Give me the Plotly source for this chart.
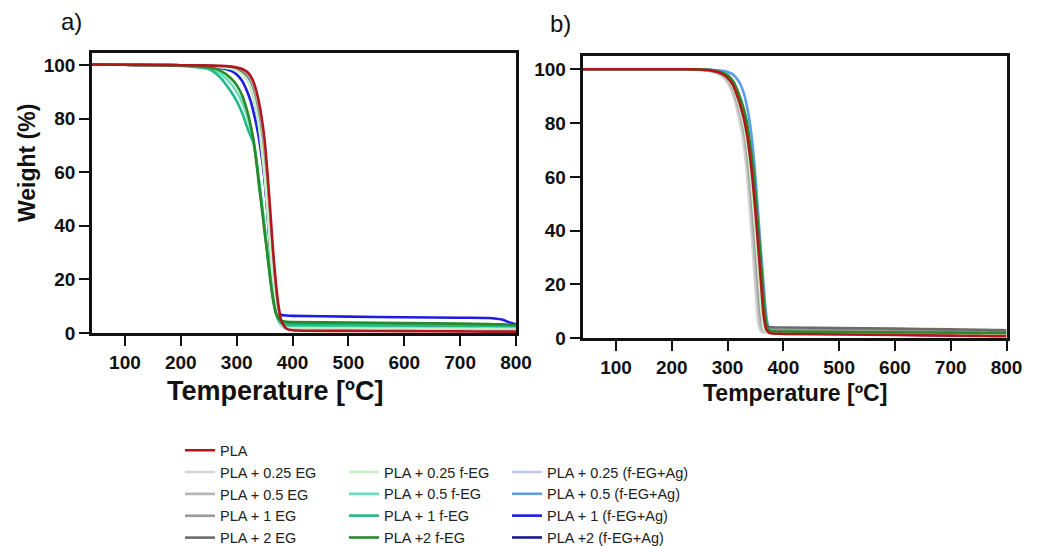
import plotly.graph_objects as go

W, H = 1038, 546

# Temperature grid (°C) shared by all curves
temps = [40, 100, 150, 200, 225, 250, 270, 290, 300, 310, 320, 325, 330, 335, 340, 345,
         350, 355, 360, 365, 370, 375, 380, 390, 400, 500, 600, 700, 750, 775, 790, 800]

# ---------- panel a) weight (%) ----------
pla_a = [100.2, 100.1, 100.0, 99.9, 99.9, 99.8, 99.7, 99.4, 99.1, 98.5, 97.2, 95.8, 93.8, 90.5, 86.0, 80.0,
         72.0, 60.0, 46.0, 31.0, 19.0, 10.0, 4.5, 1.5, 1.0, 0.8, 0.7, 0.6, 0.5, 0.5, 0.5, 0.5]
eg025_a = [100.2, 100.1, 100.0, 99.9, 99.9, 99.8, 99.6, 99.3, 99.0, 98.4, 96.8, 95.0, 92.5, 88.5, 83.5, 76.0,
           66.5, 54.0, 40.0, 26.0, 14.0, 6.5, 3.0, 1.8, 1.6, 1.5, 1.4, 1.3, 1.3, 1.3, 1.2, 1.2]
eg05_a = [100.2, 100.1, 100.0, 99.9, 99.9, 99.7, 99.5, 99.2, 98.8, 98.0, 96.0, 94.0, 91.0, 86.5, 81.0, 72.5,
          62.0, 49.0, 35.0, 22.0, 11.0, 5.0, 3.0, 2.3, 2.2, 2.1, 2.0, 1.9, 1.9, 1.8, 1.8, 1.8]
eg1_a = [100.2, 100.1, 100.0, 99.9, 99.8, 99.7, 99.4, 99.0, 98.5, 97.5, 95.2, 93.0, 89.8, 85.5, 79.5, 70.5,
         60.0, 47.0, 33.0, 20.0, 10.0, 5.0, 3.5, 2.8, 2.7, 2.6, 2.5, 2.4, 2.4, 2.3, 2.3, 2.3]
eg2_a = [100.2, 100.1, 100.0, 99.9, 99.8, 99.6, 99.3, 98.9, 98.3, 97.0, 94.5, 92.0, 88.5, 83.5, 77.5, 68.5,
         58.0, 45.0, 31.0, 18.0, 9.0, 5.0, 3.8, 3.3, 3.2, 3.1, 3.0, 2.9, 2.9, 2.8, 2.8, 2.8]
feg025_a = [100.2, 100.1, 100.0, 99.9, 99.8, 99.6, 99.2, 98.6, 97.8, 96.5, 94.0, 91.5, 88.0, 83.0, 77.0, 68.5,
            58.5, 46.0, 32.0, 19.0, 9.5, 4.5, 2.8, 2.2, 2.1, 2.0, 1.9, 1.9, 1.8, 1.8, 1.8, 1.8]
feg05_a = [100.2, 100.1, 100.0, 99.8, 99.5, 99.0, 97.0, 93.0, 90.0, 86.0, 80.0, 76.0, 72.5, 65.5, 57.0, 48.5,
           39.5, 30.5, 21.5, 13.5, 8.0, 5.0, 3.5, 2.8, 2.7, 2.6, 2.5, 2.4, 2.4, 2.4, 2.3, 2.3]
feg1_a = [100.2, 100.1, 100.0, 99.7, 99.3, 98.5, 95.5, 90.0, 86.5, 82.0, 76.0, 73.5, 71.0, 65.0, 56.5, 48.0,
          39.0, 30.0, 21.0, 13.0, 7.5, 4.8, 3.6, 3.1, 3.0, 2.9, 2.8, 2.7, 2.7, 2.6, 2.6, 2.6]
feg2_a = [100.2, 100.1, 100.0, 99.9, 99.7, 99.2, 98.0, 95.0, 92.5, 88.5, 82.0, 77.5, 72.0, 64.0, 55.0, 46.5,
          37.5, 29.0, 20.0, 12.5, 7.5, 5.5, 4.6, 4.2, 4.1, 3.9, 3.7, 3.5, 3.3, 3.2, 3.1, 3.0]
ag025_a = [100.2, 100.1, 100.0, 99.9, 99.9, 99.8, 99.6, 99.3, 99.0, 98.4, 96.8, 95.0, 92.5, 88.0, 82.5, 74.0,
           63.5, 51.0, 37.0, 23.5, 12.5, 5.5, 2.6, 1.7, 1.5, 1.4, 1.3, 1.2, 1.2, 1.2, 1.1, 1.1]
ag05_a = [100.2, 100.1, 100.0, 99.9, 99.8, 99.7, 99.5, 99.1, 98.6, 97.6, 95.0, 92.5, 89.0, 84.0, 78.0, 69.5,
          59.0, 46.5, 33.0, 20.0, 10.0, 4.5, 2.8, 2.2, 2.1, 2.0, 1.9, 1.9, 1.8, 1.8, 1.8, 1.8]
ag1_a = [100.2, 100.1, 100.0, 99.9, 99.8, 99.5, 99.0, 97.8, 96.5, 94.0, 89.5, 86.5, 82.5, 78.0, 72.5, 65.5,
         57.0, 45.5, 33.0, 21.0, 12.0, 8.0, 6.8, 6.5, 6.4, 6.1, 5.9, 5.7, 5.6, 5.0, 3.8, 3.2]
ag2_a = [100.2, 100.1, 100.0, 99.9, 99.8, 99.6, 99.3, 98.9, 98.3, 97.0, 94.5, 92.0, 88.5, 83.5, 77.5, 68.5,
         58.0, 45.0, 31.0, 18.0, 9.0, 5.0, 3.8, 3.3, 3.2, 3.1, 3.0, 2.9, 2.9, 2.8, 2.8, 2.8]

# ---------- panel b) weight (%) ----------
pla_b = [100, 100, 100, 100, 100, 99.9, 99.5, 98.3, 96.8, 94.0, 88.5, 85.0, 81.0, 75.5, 68.0, 58.5,
         47.0, 34.0, 20.5, 8.0, 3.0, 2.0, 1.8, 1.7, 1.6, 1.4, 1.2, 1.0, 0.9, 0.8, 0.8, 0.8]
eg025_b = [100, 100, 100, 100, 100, 99.8, 99.2, 97.5, 95.0, 90.5, 82.0, 77.0, 70.0, 60.0, 47.0, 33.0,
           18.0, 5.5, 2.4, 2.1, 2.0, 1.9, 1.9, 1.8, 1.8, 1.6, 1.5, 1.3, 1.3, 1.2, 1.2, 1.2]
eg05_b = [100, 100, 100, 100, 100, 99.8, 99.3, 97.8, 95.8, 92.0, 85.0, 80.5, 75.0, 66.5, 55.0, 41.5,
          27.0, 13.0, 4.0, 2.6, 2.5, 2.4, 2.4, 2.3, 2.3, 2.2, 2.0, 1.9, 1.8, 1.8, 1.8, 1.8]
eg1_b = [100, 100, 100, 100, 100, 99.8, 99.4, 98.0, 96.2, 92.8, 86.5, 82.5, 77.5, 70.0, 60.0, 48.0,
         34.5, 20.5, 8.0, 3.8, 3.4, 3.3, 3.3, 3.2, 3.2, 3.0, 2.8, 2.6, 2.5, 2.5, 2.5, 2.5]
eg2_b = [100, 100, 100, 100, 100, 99.9, 99.5, 98.2, 96.6, 93.5, 87.5, 84.0, 79.5, 73.0, 64.5, 54.0,
         42.0, 29.0, 16.0, 6.5, 4.5, 4.2, 4.1, 4.0, 4.0, 3.8, 3.6, 3.3, 3.2, 3.1, 3.1, 3.0]
feg025_b = [100, 100, 100, 100, 100, 99.9, 99.4, 98.1, 96.4, 93.2, 87.0, 83.0, 78.5, 72.0, 63.0, 52.0,
            39.5, 26.0, 12.0, 3.5, 2.3, 2.1, 2.0, 2.0, 1.9, 1.8, 1.7, 1.6, 1.5, 1.5, 1.5, 1.5]
feg2_b = [100, 100, 100, 100, 100, 99.9, 99.7, 98.8, 97.8, 95.5, 91.0, 88.0, 84.5, 80.0, 73.0, 65.0,
          54.0, 41.0, 28.0, 14.0, 5.0, 2.8, 2.6, 2.5, 2.5, 2.3, 2.2, 2.1, 2.0, 2.0, 2.0, 2.0]
ag025_b = [100, 100, 100, 100, 100, 99.9, 99.6, 98.6, 97.4, 95.0, 90.0, 86.8, 83.0, 78.0, 71.0, 62.0,
           51.0, 38.0, 24.5, 11.0, 4.0, 2.5, 2.3, 2.2, 2.2, 2.1, 2.0, 1.9, 1.8, 1.8, 1.8, 1.8]
ag05_b = [100, 100, 100, 100, 100, 100, 99.8, 99.4, 99.0, 98.0, 95.5, 93.5, 90.5, 86.0, 80.0, 71.5,
          60.0, 46.0, 32.0, 19.0, 7.5, 3.0, 2.6, 2.5, 2.5, 2.4, 2.3, 2.2, 2.1, 2.1, 2.1, 2.1]

x_ticks = [100, 200, 300, 400, 500, 600, 700, 800]
y_ticks = [0, 20, 40, 60, 80, 100]

# series: (name, colour, legend, rank, data_a, data_b) -- listed in drawing order
series = [
    ("PLA +2 (f-EG+Ag)", "#1a1a8c", "legend3", 13, ag2_a, None),
    ("PLA + 0.25 (f-EG+Ag)", "#c2c8f0", "legend3", 10, ag025_a, ag025_b),
    ("PLA + 0.5 (f-EG+Ag)", "#5c9ee8", "legend3", 11, ag05_a, ag05_b),
    ("PLA + 1 (f-EG+Ag)", "#1c1ce6", "legend3", 12, ag1_a, None),
    ("PLA + 0.25 EG", "#d6d6d6", "legend", 2, eg025_a, eg025_b),
    ("PLA + 0.5 EG", "#b6b6b6", "legend", 3, eg05_a, eg05_b),
    ("PLA + 1 EG", "#9a9a9a", "legend", 4, eg1_a, eg1_b),
    ("PLA + 2 EG", "#6c6c6c", "legend", 5, eg2_a, eg2_b),
    ("PLA + 0.25 f-EG", "#c8f0c8", "legend2", 6, feg025_a, feg025_b),
    ("PLA + 0.5 f-EG", "#66e0b6", "legend2", 7, feg05_a, None),
    ("PLA + 1 f-EG", "#22b888", "legend2", 8, feg1_a, None),
    ("PLA +2 f-EG", "#2a8a2a", "legend2", 9, feg2_a, feg2_b),
    ("PLA", "#b0161c", "legend", 1, pla_a, pla_b),
]

FONT = "Liberation Sans, Arial, sans-serif"

fig = go.Figure()
for name, col, leg, rank, da, db in series:
    fig.add_trace(go.Scatter(x=temps, y=da, mode="lines", name=name,
                             line=dict(color=col, width=2.6, shape="spline", smoothing=0.7),
                             legend=leg, legendrank=rank, xaxis="x", yaxis="y"))
for name, col, leg, rank, da, db in series:
    if db is None:
        continue
    fig.add_trace(go.Scatter(x=temps, y=db, mode="lines", name=name, showlegend=False,
                             line=dict(color=col, width=2.6, shape="spline", smoothing=0.7),
                             xaxis="x2", yaxis="y2"))


def px(x):
    return x / W


def py(y):
    return 1 - y / H


axis_common = dict(showgrid=False, zeroline=False, showline=True, linecolor="#111", linewidth=2.6,
                   mirror=True, ticks="outside", ticklen=10, tickwidth=2.4, tickcolor="#111",
                   tickfont=dict(family=FONT, size=19, color="#111", weight="bold"))

legend_common = dict(xanchor="left", yanchor="top", bgcolor="rgba(0,0,0,0)",
                     font=dict(family=FONT, size=14.5, color="#222"), traceorder="normal", itemwidth=30)

fig.update_layout(
    width=W, height=H, margin=dict(l=0, r=0, t=0, b=0, autoexpand=False),
    paper_bgcolor="white", plot_bgcolor="white",
    font=dict(family=FONT, color="#111"),
    xaxis=dict(domain=[px(92), px(516)], range=[41, 800], tickvals=x_ticks, anchor="y", **axis_common),
    yaxis=dict(domain=[py(333), py(52.7)], range=[0, 104.6], tickvals=y_ticks, anchor="x", **axis_common),
    xaxis2=dict(domain=[px(582.5), px(1006.5)], range=[40, 800], tickvals=x_ticks, anchor="y2", **axis_common),
    yaxis2=dict(domain=[py(338.3), py(55.5)], range=[0, 105.1], tickvals=y_ticks, anchor="x2", **axis_common),
    legend=dict(x=px(180), y=py(434.3), **legend_common),
    legend2=dict(x=px(344), y=py(456), **legend_common),
    legend3=dict(x=px(507), y=py(456), **legend_common),
    annotations=[
        dict(text="a)", x=px(72), y=py(22), xref="paper", yref="paper", showarrow=False,
             xanchor="center", yanchor="middle", font=dict(family=FONT, size=24, color="#111")),
        dict(text="b)", x=px(560), y=py(24), xref="paper", yref="paper", showarrow=False,
             xanchor="center", yanchor="middle", font=dict(family=FONT, size=24, color="#111")),
        dict(text="Weight (%)", x=px(27), y=py(163), xref="paper", yref="paper", showarrow=False,
             xanchor="center", yanchor="middle", textangle=-90,
             font=dict(family=FONT, size=23, color="#111", weight="bold")),
        dict(text="Temperature [ºC]", x=px(275), y=py(391), xref="paper", yref="paper", showarrow=False,
             xanchor="center", yanchor="middle", font=dict(family=FONT, size=27, color="#111", weight="bold")),
        dict(text="Temperature [ºC]", x=px(795), y=py(393), xref="paper", yref="paper", showarrow=False,
             xanchor="center", yanchor="middle", font=dict(family=FONT, size=23, color="#111", weight="bold")),
    ],
)

fig.write_html("out.html", config={"displayModeBar": False},
               post_script="document.body.style.margin='0';")
